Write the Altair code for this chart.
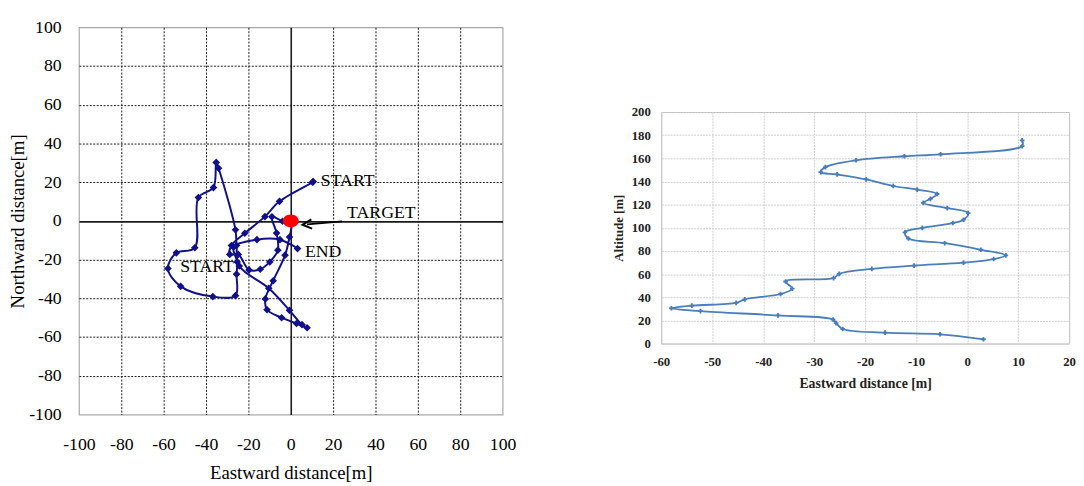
import altair as alt
import pandas as pd

# ---- left chart: horizontal track (eastward / northward, m) ----
track_east = [10.6, 10.3, -5.3, -12.2, -21.7, -28.0, -28.8, -24.8, -19.7, -14.4,
              -9.9, -6.1, -6.7, -8.9, -3.9, 0.2, -0.6, -2.7, -8.3, -12.0,
              -11.2, -4.3, 2.7, 7.7, 5.3, -0.6, -10.4, -24.3, -25.6, -26.1,
              -34.1, -35.2, -36.5, -43.6, -45.3, -54.0, -58.0, -52.0, -36.8, -26.1,
              -25.6, -25.3, -27.0, -16.0, -5.1, 3.2]
track_north = [20.3, 20.0, 10.1, 2.2, -6.4, -12.7, -17.3, -17.3, -25.3, -25.0,
               -21.2, -15.1, -6.3, 2.1, -0.2, -1.2, -8.3, -17.7, -30.9, -40.3,
               -45.9, -50.0, -53.0, -55.2, -53.6, -46.2, -34.8, -23.3, -12.7, -4.6,
               27.2, 30.2, 17.2, 12.1, -13.9, -16.5, -24.6, -33.8, -39.1, -38.6,
               -27.5, -21.2, -13.5, -9.7, -9.7, -14.3]
left_ticks = [-100, -80, -60, -40, -20, 0, 20, 40, 60, 80, 100]

target_east = [0]
target_north = [0]

label_text = ["START", "TARGET", "END", "START"]
label_east = [14.2, 26.6, 6.7, -52.2]
label_north = [18.1, 1.4, -18.4, -26.6]

arrow_from = (24.2, -0.25)
arrow_to = (7.7, -1.8)

# ---- right chart: eastward distance vs altitude ----
profile_alt = [3.7, 8.0, 9.4, 12.6, 17.7, 20.8, 24.3, 28.0, 30.5, 32.8,
               35.1, 38.2, 42.8, 47.4, 53.6, 56.5, 60.2, 64.5, 67.3, 69.9,
               73.0, 76.2, 81.0, 86.7, 90.7, 96.1, 99.9, 104.1, 107.0, 112.7,
               117.0, 121.5, 125.0, 129.2, 133.0, 136.1, 141.8, 146.1, 148.1, 152.4,
               158.3, 161.8, 163.5, 170.6, 175.5]
profile_east = [3.2, -5.3, -16.1, -24.4, -25.7, -26.3, -37.1, -52.3, -58.0, -54.0,
                -45.3, -43.6, -36.6, -34.3, -35.6, -26.2, -25.1, -18.7, -10.4, -0.7,
                5.2, 7.6, 2.7, -4.4, -11.5, -12.2, -8.8, -2.8, -0.7, 0.2,
                -3.9, -8.6, -7.2, -5.9, -9.8, -14.5, -19.8, -25.5, -28.7, -27.8,
                -21.8, -12.3, -5.2, 10.8, 10.8]
right_xticks = [-60, -50, -40, -30, -20, -10, 0, 10, 20]
right_yticks = [0, 20, 40, 60, 80, 100, 120, 140, 160, 180, 200]

SERIF = "Liberation Serif"
NAVY = "#10108a"
BLUE = "#4a7ebb"
HYPHEN_LABEL = "'' + datum.value"

track_df = pd.DataFrame({"i": range(len(track_east)), "e": track_east, "n": track_north})
target_df = pd.DataFrame({"e": target_east, "n": target_north})
labels_df = pd.DataFrame({"t": label_text, "e": label_east, "n": label_north})
arrow_df = pd.DataFrame({"e": [arrow_from[0]], "n": [arrow_from[1]],
                         "e2": [arrow_to[0]], "n2": [arrow_to[1]]})
profile_df = pd.DataFrame({"i": range(len(profile_alt)), "e": profile_east, "a": profile_alt})

grid_color = {"condition": {"test": "abs(datum.value) == 100", "value": "transparent"}, "value": "#1a1a1a"}
grid_dash = {"condition": {"test": "datum.value == 0", "value": []}, "value": [2, 1.5]}
grid_width = {"condition": {"test": "datum.value == 0", "value": 1.6}, "value": 1}

xs = alt.Scale(domain=[-100, 100], nice=False)
ys = alt.Scale(domain=[-100, 100], nice=False)

common_left = dict(grid=True, gridColor=grid_color, gridDash=grid_dash, gridWidth=grid_width,
                   ticks=False, domain=False, labelFont=SERIF, labelFontSize=18,
                   labelColor="#000", labelOverlap=False, labelFlush=False,
                   labelExpr=HYPHEN_LABEL, titleFont=SERIF, titleFontSize=19,
                   titleFontWeight="normal", titleColor="#000", tickCount=11)
x_axis = alt.Axis(values=left_ticks, title="Eastward distance[m]", labelPadding=22,
                  titlePadding=10, **common_left)
y_axis = alt.Axis(values=left_ticks, title="Northward distance[m]", labelPadding=18,
                  titlePadding=1, **common_left)


def lx(field):
    return alt.X(field, type="quantitative", scale=xs, axis=x_axis)


def ly(field):
    return alt.Y(field, type="quantitative", scale=ys, axis=y_axis)


base = alt.Chart(track_df).encode(x=lx("e"), y=ly("n"))
track_line = base.mark_line(color=NAVY, strokeWidth=2, interpolate="catmull-rom").encode(order="i:Q")
track_pts = base.mark_point(shape="diamond", filled=True, size=60, color=NAVY, opacity=1)

target = alt.Chart(target_df).mark_point(
    shape="M -1 0 A 1 0.8 0 1 0 1 0 A 1 0.8 0 1 0 -1 0 Z",
    filled=True, size=260, color="#ff0000", opacity=1
).encode(x=lx("e"), y=ly("n"))

arrow_line = alt.Chart(arrow_df).mark_rule(color="#000", strokeWidth=2).encode(
    x=lx("e"), y=ly("n"), x2="e2:Q", y2="n2:Q")
arrow_head = alt.Chart(arrow_df).mark_point(
    shape="M 1 -1 L -1 0 L 1 1", filled=False, size=90, color="#000",
    strokeWidth=2, angle=355, opacity=1
).encode(x=lx("e2"), y=ly("n2"))

labels = alt.Chart(labels_df).mark_text(
    font=SERIF, fontSize=18, color="#000", align="left", baseline="alphabetic"
).encode(x=lx("e"), y=ly("n"), text="t:N")

left = alt.layer(track_line, track_pts, target, arrow_line, arrow_head, labels).properties(
    width=430, height=393, view=alt.ViewBackground(stroke="#a8a8a8", strokeWidth=1.2)
)

# ---- right chart ----
common_right = dict(grid=True, gridColor="#cdcdcd", gridDash=[2, 1], ticks=False, domain=False,
                    labelFont=SERIF, labelFontSize=13, labelFontWeight="bold", labelColor="#222",
                    labelOverlap=False, labelFlush=False, labelExpr=HYPHEN_LABEL,
                    titleFont=SERIF, titleFontWeight="bold", titleColor="#222")
rx_axis = alt.Axis(values=right_xticks, title="Eastward distance  [m]", labelPadding=12,
                   titleFontSize=14, titlePadding=9, **common_right)
ry_axis = alt.Axis(values=right_yticks, title="Altitude [m]", labelPadding=11,
                   titleFontSize=13, titlePadding=6, **common_right)
rbase = alt.Chart(profile_df).encode(
    x=alt.X("e:Q", scale=alt.Scale(domain=[-60, 20], nice=False), axis=rx_axis),
    y=alt.Y("a:Q", scale=alt.Scale(domain=[0, 200], nice=False), axis=ry_axis),
)
r_line = rbase.mark_line(color=BLUE, strokeWidth=1.8, interpolate="catmull-rom").encode(order="i:Q")
r_pts = rbase.mark_point(shape="cross", filled=True, size=22, color=BLUE, opacity=1)
right = alt.layer(r_line, r_pts).properties(
    width=414, height=235, view=alt.ViewBackground(stroke="#b5b5b5", strokeWidth=1)
)

spacer = alt.Chart(pd.DataFrame({"v": [0]})).mark_rule(color="white", opacity=0).encode(
    x=alt.value(0), y=alt.value(0), y2=alt.value(78)
).properties(width=10, height=78, view=alt.ViewBackground(stroke="transparent"))

right_col = alt.vconcat(spacer, right, spacing=0)

chart = alt.hconcat(left, right_col, spacing=96).properties(
    padding={"left": 0, "top": 6, "right": 0, "bottom": 0}
).configure(font=SERIF).configure_axis(labelFont=SERIF, titleFont=SERIF
).configure_view(stroke="transparent")

chart.save("out.html", embed_options={"renderer": "svg", "actions": False})
